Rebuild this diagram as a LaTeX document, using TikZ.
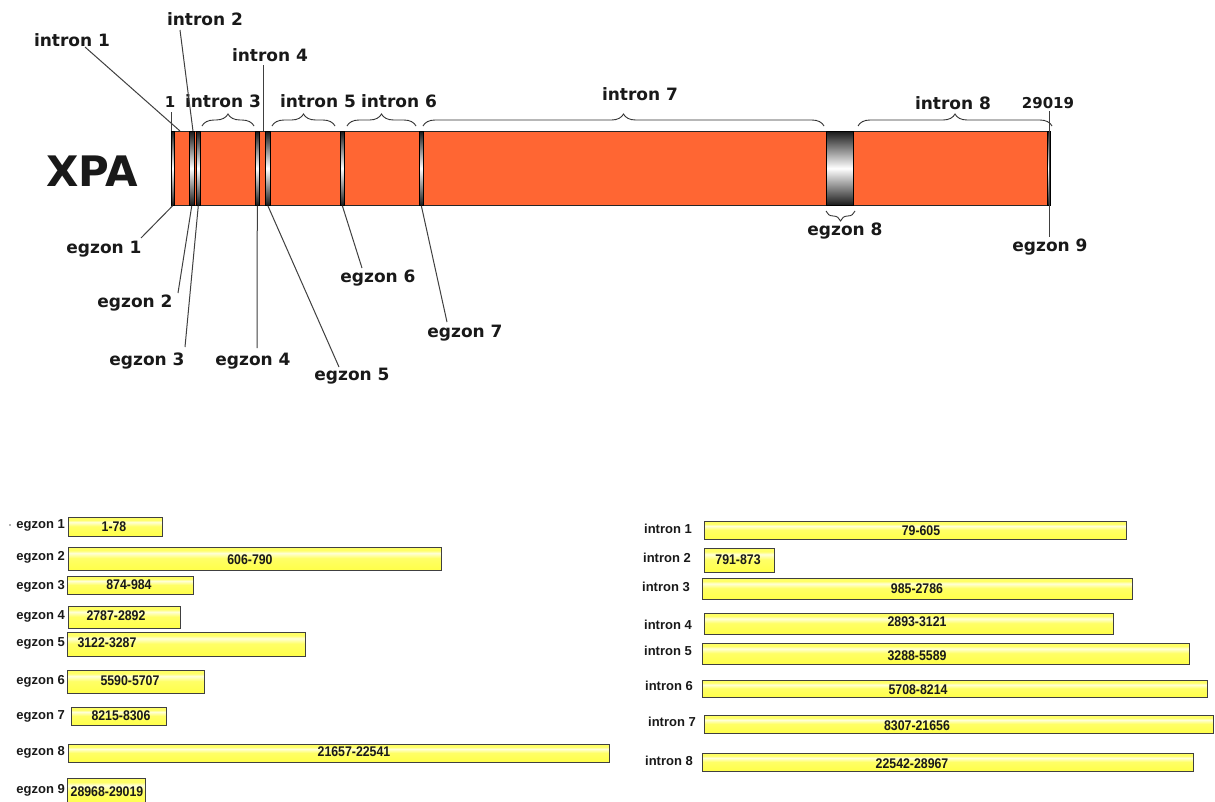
\documentclass[tikz,border=0pt]{standalone}
\usepackage{fontspec}
\setmainfont{DejaVu Sans}
\newfontfamily\lowf{Liberation Sans}
\newfontfamily\numf{Liberation Sans}[FakeStretch=0.88]
\usetikzlibrary{decorations.pathreplacing}
\definecolor{xorange}{HTML}{FF6633}
\definecolor{ybar}{HTML}{FFFF66}
\definecolor{ylight}{HTML}{FFFFD8}
\definecolor{ydark}{HTML}{FFFF48}
\definecolor{exdark}{HTML}{1A1A1A}
\pgfdeclareverticalshading{ybarshade}{100bp}{color(0bp)=(ydark); color(25bp)=(ydark); color(52bp)=(ybar); color(63bp)=(ylight); color(69bp)=(ybar); color(75bp)=(ybar); color(100bp)=(ybar)}
\pgfdeclareverticalshading{exonshade}{100bp}{color(0bp)=(exdark); color(25bp)=(exdark); color(50bp)=(white); color(75bp)=(exdark); color(100bp)=(exdark)}
\tikzset{
  genebar/.style={draw=black!85, line width=0.8pt, fill=xorange, inner sep=0pt},
  exonband/.style={draw=black, line width=0.6pt, shade, shading=exonshade, inner sep=0pt},
  toplbl/.style={font=\bfseries\fontsize{17}{20}\selectfont, text=black!90, inner sep=0pt},
  poslbl/.style={font=\bfseries\fontsize{15}{18}\selectfont, text=black!90, inner sep=0pt},
  conn/.style={draw=black!75, line width=1pt},
  brc/.style={decorate, decoration={brace, amplitude=12pt}, draw=black!80, line width=0.9pt},
  brcs/.style={decorate, decoration={brace, amplitude=10pt}, draw=black!80, line width=0.9pt},
  ybox/.style={draw=black!75, line width=1.2pt, shade, shading=ybarshade, inner sep=0pt},
  lowlbl/.style={font=\lowf\bfseries\fontsize{13}{15}\selectfont, text=black!90, inner sep=0pt, anchor=east},
  numlbl/.style={font=\numf\bfseries\fontsize{14}{16}\selectfont, text=black!90, inner sep=0pt}
}
\begin{document}
\begin{tikzpicture}[x=1pt, y=-1pt]
\useasboundingbox (0,0) rectangle (1215,801);
\fill[white] (0,0) rectangle (1215,801);

% ---------- gene map ----------
\node[genebar, anchor=north west, minimum width=878pt, minimum height=74pt] (gene) at (171,131) {};
\foreach \nm/\xa/\xb in {ex1/171/174, ex2/189/194, ex3/196/200, ex4/255/259, ex5/265/270, ex6/340/344, ex7/419/423, ex8/826/853, ex9/1047/1050}{
  \node[exonband, anchor=north west, minimum width={(\xb-\xa)*1pt}, minimum height=74pt] (\nm) at (\xa,131) {};
}

\node[font=\bfseries\fontsize{42}{46}\selectfont, text=black!90, inner sep=0pt] (xpa) at (92,171) {XPA};

% top labels
\node[toplbl] (li1) at (72,40) {intron 1};
\node[toplbl] (li2) at (205,19) {intron 2};
\node[toplbl] (li4) at (270,55) {intron 4};
\node[toplbl] (li3) at (223,101) {intron 3};
\node[toplbl] (li5) at (318,101) {intron 5};
\node[toplbl] (li6) at (399,101) {intron 6};
\node[toplbl] (li7) at (640,94) {intron 7};
\node[toplbl] (li8) at (953,103) {intron 8};
\node[poslbl] (p1) at (170,102) {1};
\node[poslbl] (pend) at (1048,103) {29019};

% bottom labels
\node[toplbl] (le1) at (104,249) {egzon 1};
\node[toplbl] (le2) at (135,303) {egzon 2};
\node[toplbl] (le3) at (147,361) {egzon 3};
\node[toplbl] (le4) at (253,361) {egzon 4};
\node[toplbl] (le5) at (352,376) {egzon 5};
\node[toplbl] (le6) at (378,278) {egzon 6};
\node[toplbl] (le7) at (465,333) {egzon 7};
\node[toplbl] (le8) at (845,231) {egzon 8};
\node[toplbl] (le9) at (1050,247) {egzon 9};

% connector end points
\coordinate (c1a) at (171,112);   \coordinate (c1b) at (171,131);
\coordinate (ci1a) at (85,47);    \coordinate (ci1b) at (180,131);
\coordinate (ci2a) at (180,30);   \coordinate (ci2b) at (193,131);
\coordinate (ci4a) at (263,65);   \coordinate (ci4b) at (263,131);
\coordinate (cend) at (1049,111); \coordinate (ce9) at (1049,237);
\coordinate (ce1) at (141,238);
\coordinate (ce2) at (178,293);
\coordinate (ce3) at (185,347);
\coordinate (ce4) at (257,348);
\coordinate (ce5) at (339,367);
\coordinate (ce6) at (362,268);
\coordinate (ce7) at (447,322);

\draw[conn] (c1a) -- (c1b);
\draw[conn] (ci1a) -- (ci1b);
\draw[conn] (ci2a) -- (ci2b);
\draw[conn] (ci4a) -- (ci4b);
\draw[conn] (cend) -- (ce9);
\draw[conn] (ex1.south) -- (ce1);
\draw[conn] (ex2.south) -- (ce2);
\draw[conn] (ex3.south) -- (ce3);
\draw[conn] (ex4.south) -- (ce4);
\draw[conn] (ex5.south) -- (ce5);
\draw[conn] (ex6.south) -- (ce6);
\draw[conn] (ex7.south) -- (ce7);

% braces
\draw[brc] (202,126) -- (254,126);
\draw[brc] (272,126) -- (335,126);
\draw[brc] (347,126) -- (416,126);
\draw[brc] (423,126) -- (824,126);
\draw[brc] (858,126) -- (1052,126);
\draw[brcs] (855,211) -- (826,211);

% ---------- exon table ----------
\fill[black!60] (10,525) circle (0.9pt);
\foreach \k/\xa/\ya/\xb/\yb/\nx/\ny/\t/\ly in {
  1/68/517/162/536/114/527/1-78/525,
  2/68/547/441/570/250/560/606-790/557,
  3/67/576/193/594/129/585/874-984/586,
  4/68/606/180/628/116/616/2787-2892/616,
  5/67/632/305/656/107/643/3122-3287/643,
  6/67/670/204/693/130/681/5590-5707/681,
  7/71/707/166/725/121/716/8215-8306/716,
  8/68/744/609/762/354/752/21657-22541/752,
  9/67/778/145/806/107/792/28968-29019/790}{
  \node[ybox, anchor=north west, minimum width={(\xb-\xa)*1pt}, minimum height={(\yb-\ya)*1pt}] (eb\k) at (\xa,\ya) {};
  \node[numlbl] (en\k) at (\nx,\ny) {\t};
  \node[lowlbl] (el\k) at (65,\ly) {egzon \k};
}

% ---------- intron table ----------
\foreach \k/\xa/\ya/\xb/\yb/\nx/\ny/\t/\lx/\ly in {
  1/704/521/1126/539/921/531/79-605/692/529,
  2/704/548/774/572/738/560/791-873/691/558,
  3/702/578/1132/599/917/589/985-2786/690/587,
  4/704/613/1113/634/917/622/2893-3121/692/625,
  5/702/643/1189/664/917/656/3288-5589/692/651,
  6/702/680/1207/697/918/690/5708-8214/693/686,
  7/704/715/1213/733/917/726/8307-21656/696/722,
  8/702/753/1193/771/912/764/22542-28967/693/761}{
  \node[ybox, anchor=north west, minimum width={(\xb-\xa)*1pt}, minimum height={(\yb-\ya)*1pt}] (ib\k) at (\xa,\ya) {};
  \node[numlbl] (in\k) at (\nx,\ny) {\t};
  \node[lowlbl] (il\k) at (\lx,\ly) {intron \k};
}
\end{tikzpicture}
\end{document}
